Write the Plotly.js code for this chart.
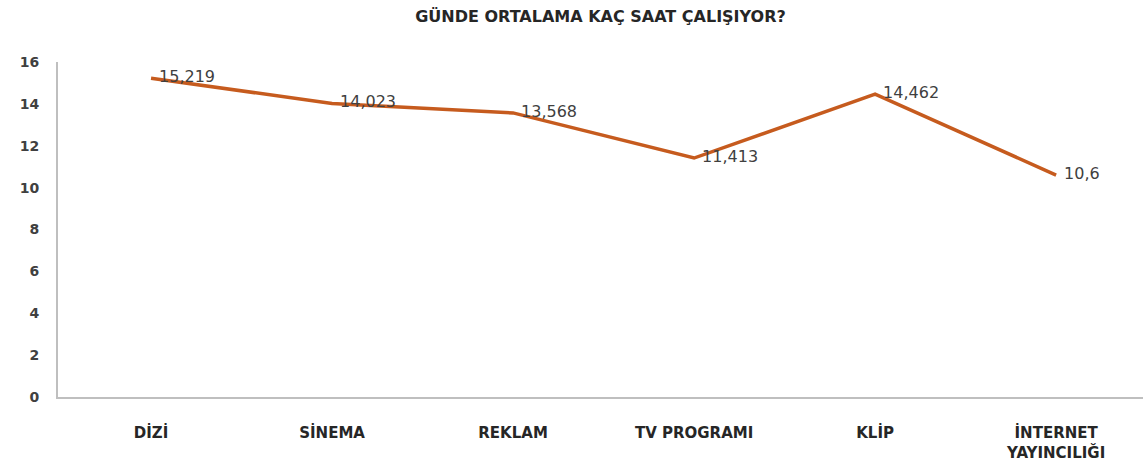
<!DOCTYPE html>
<html>
<head>
<meta charset="utf-8">
<script src="https://cdn.plot.ly/plotly-3.0.1.min.js"></script>
<style>html,body{margin:0;padding:0;background:#fff;}#chart{width:1143px;height:474px;}</style>
</head>
<body>
<div id="chart"></div>
<script>
const categories = ["DİZİ", "SİNEMA", "REKLAM", "TV PROGRAMI", "KLİP", "İNTERNET<br>YAYINCILIĞI"];
const hours = [15.219, 14.023, 13.568, 11.413, 14.462, 10.6];
const yTicks = [0, 2, 4, 6, 8, 10, 12, 14, 16];
const titleText = "GÜNDE ORTALAMA KAÇ SAAT ÇALIŞIYOR?";

const labels = hours.map(v => '\u2002' + String(v).replace('.', ','));

const trace = {
  x: categories,
  y: hours,
  type: 'scatter',
  mode: 'lines+text',
  text: labels,
  textposition: 'middle right',
  textfont: {family: 'DejaVu Sans, sans-serif', size: 16, color: '#404040'},
  line: {color: '#C65B1E', width: 3.5},
  hoverinfo: 'none',
  cliponaxis: false
};

const layout = {
  width: 1143,
  height: 474,
  margin: {l: 58, r: 0, t: 62, b: 77},
  paper_bgcolor: '#ffffff',
  plot_bgcolor: '#ffffff',
  showlegend: false,
  separators: ',.',
  title: {
    text: titleText,
    x: 0.5, xref: 'paper', y: 0.978, yref: 'container', yanchor: 'top',
    font: {family: 'DejaVu Sans, sans-serif', size: 16, weight: 'bold', color: '#262626'}
  },
  xaxis: {
    type: 'category',
    range: [-0.514, 5.48],
    showgrid: false,
    zeroline: false,
    showline: true,
    linecolor: '#BFBFBF',
    linewidth: 2,
    ticks: '',
    ticklabelstandoff: 21,
    tickfont: {family: 'DejaVu Sans, sans-serif', size: 15, weight: 'bold', color: '#262626'}
  },
  yaxis: {
    range: [0, 16],
    tickvals: yTicks,
    ticktext: yTicks.map(String),
    showgrid: false,
    zeroline: false,
    showline: true,
    linecolor: '#BFBFBF',
    linewidth: 2,
    ticks: '',
    ticklabelstandoff: 14,
    tickfont: {family: 'DejaVu Sans, sans-serif', size: 14, weight: 'bold', color: '#404040'}
  }
};

Plotly.newPlot('chart', [trace], layout, {displayModeBar: false, staticPlot: true});
</script>
</body>
</html>
